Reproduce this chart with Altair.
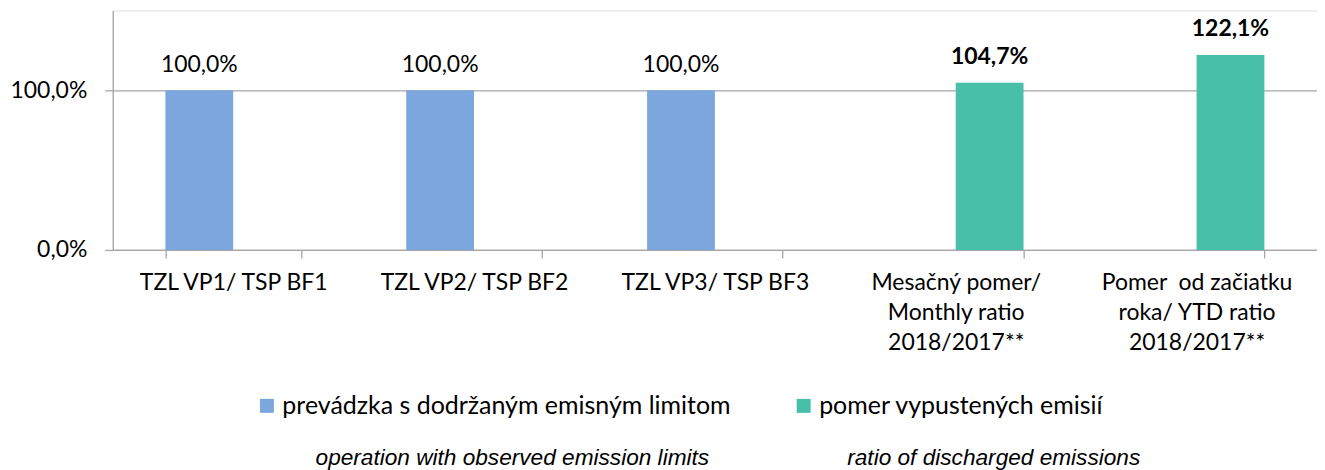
import altair as alt
import pandas as pd

categories = [
    "TZL VP1/ TSP BF1",
    "TZL VP2/ TSP BF2",
    "TZL VP3/ TSP BF3",
    "Mesačný pomer/|Monthly ratio|2018/2017**",
    "Pomer \u00a0od začiatku|roka/ YTD ratio|2018/2017**",
]
series_names = ["prevádzka s dodržaným emisným limitom", "pomer vypustených emisií"]
bar_series = [0, 0, 0, 1, 1]
values = [1.0, 1.0, 1.0, 1.047, 1.221]
notes = ["operation with observed emission limits", "ratio of discharged emissions"]
colors = ["#7BA7DE", "#48BFA9"]

df = pd.DataFrame({
    "cat": categories,
    "series": [series_names[i] for i in bar_series],
    "value": values,
    "bold": [s == 1 for s in bar_series],
})

FONT = "Lato"
FS = 23
W, H = 1207, 240
GRAY = "#A6A6A6"

x_enc = alt.X("cat:N", sort=categories,
              scale=alt.Scale(paddingInner=0.437, paddingOuter=0.2185),
              axis=alt.Axis(title=None, labelAngle=0, labelExpr="split(datum.label, '|')",
                            labelFont=FONT, labelFontSize=FS, labelColor="#000000",
                            labelLineHeight=30, labelBaseline="top", labelPadding=14,
                            labelLimit=400,
                            tickBand="extent", tickSize=8, tickColor=GRAY, tickWidth=1.3,
                            domainColor=GRAY, domainWidth=1.3, grid=False))
y_enc = alt.Y("value:Q", scale=alt.Scale(domain=[0, 1.5], nice=False),
              axis=alt.Axis(title=None, values=[0, 1],
                            labelExpr="replace(format(datum.value, '.1%'), '.', ',')",
                            labelFont=FONT, labelFontSize=FS, labelColor="#000000", labelPadding=18,
                            tickSize=8, tickColor=GRAY, tickWidth=1.3, domainColor=GRAY, domainWidth=1.3,
                            gridColor=GRAY, gridWidth=1.3))
xoff = alt.XOffset("series:N", sort=series_names,
                   scale=alt.Scale(domain=series_names, paddingInner=0, paddingOuter=0))

bars = alt.Chart(df).mark_bar().encode(
    x=x_enc, y=y_enc, xOffset=xoff,
    color=alt.Color("series:N", scale=alt.Scale(domain=series_names, range=colors),
                    legend=alt.Legend(title=None, orient="none", legendX=142, legendY=383.5,
                                      direction="horizontal", symbolType="square", symbolSize=196,
                                      symbolStrokeWidth=0, labelFont=FONT, labelFontSize=25,
                                      labelColor="#000000", columnPadding=60, padding=0,
                                      labelOffset=3, labelLimit=700)),
)

label_expr = "replace(format(datum.value, '.1%'), '.', ',')"

lab_reg = alt.Chart(df).transform_filter("!datum.bold").transform_calculate(label=label_expr).mark_text(
    font=FONT, fontSize=FS, color="#000000", baseline="alphabetic", dy=-18
).encode(x=alt.X("cat:N", sort=categories), xOffset=xoff, y="value:Q", text="label:N")

lab_bold = alt.Chart(df).transform_filter("datum.bold").transform_calculate(label=label_expr).mark_text(
    font=FONT, fontSize=FS, fontWeight="bold", color="#000000", baseline="alphabetic", dy=-19
).encode(x=alt.X("cat:N", sort=categories), xOffset=xoff, y="value:Q", text="label:N")

note1 = alt.Chart(pd.DataFrame({"t": [notes[0]]})).mark_text(
    font="Liberation Sans", fontStyle="italic", fontSize=22.7, color="#000000",
    align="center", baseline="alphabetic"
).encode(text="t:N", x=alt.value(400.5), y=alt.value(456))
note2 = alt.Chart(pd.DataFrame({"t": [notes[1]]})).mark_text(
    font="Liberation Sans", fontStyle="italic", fontSize=22.7, color="#000000",
    align="center", baseline="alphabetic"
).encode(text="t:N", x=alt.value(883), y=alt.value(456))

chart = alt.layer(bars, lab_reg, lab_bold, note1, note2).properties(
    width=W, height=H,
    autosize=alt.AutoSizeParams(type="none"),
    padding={"left": 105, "top": 2, "right": 0, "bottom": 220},
).configure_view(stroke=None).configure(background="white")

chart.save("out.html", embed_options={"renderer": "svg", "actions": False})
